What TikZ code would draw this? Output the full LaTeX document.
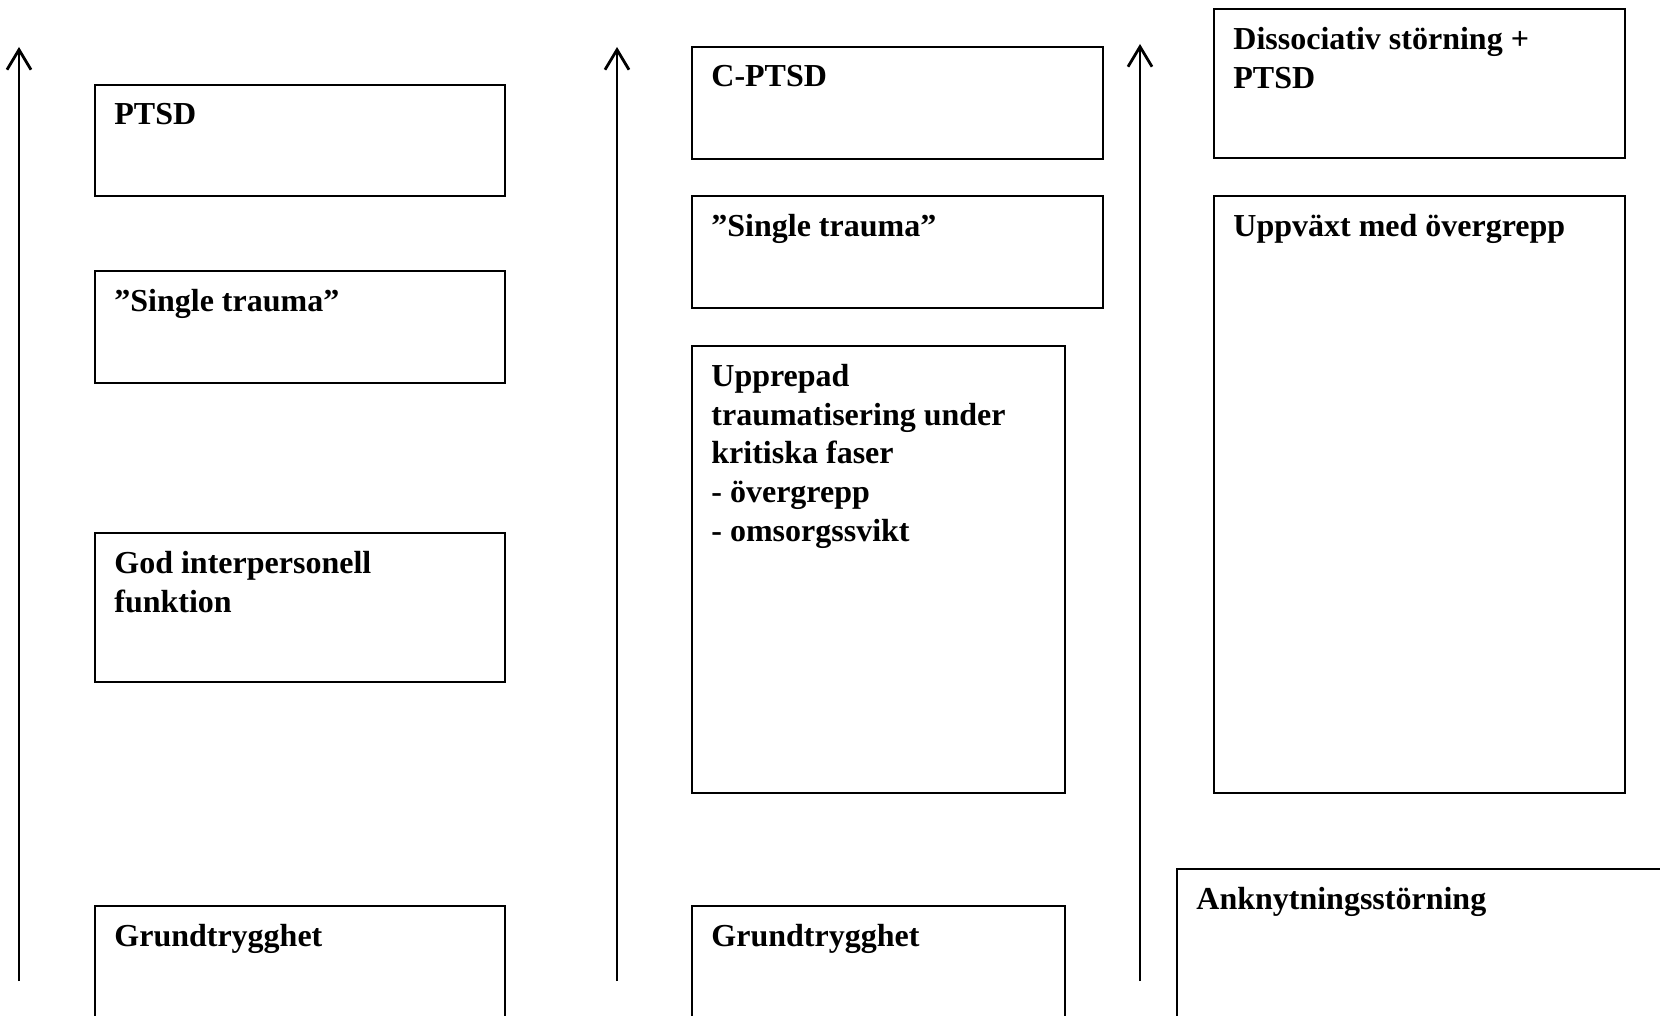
\documentclass[tikz,border=0pt]{standalone}
\usepackage{fontspec}
\setmainfont{Liberation Serif}
\usetikzlibrary{arrows.meta,fit}
\tikzstyle{frame}=[draw, line width=1pt, inner sep=0pt]
\tikzstyle{boxlabel}=[font=\bfseries\fontsize{16}{19.3}\selectfont, align=left, inner sep=0pt, anchor=north west, xshift=10pt, yshift=-9.5pt]
\tikzstyle{timeline}=[line width=1.4pt, -{Straight Barb[length=10pt,width=12pt]}]
\newcommand{\trbox}[4]{% Syntax: {name}{(top left)}{(bottom right)}{text}
    \node[frame, fit={#2 #3}, label={[boxlabel]north west:{#4}}] (#1) {};
}
\newcommand{\timeline}[3]{% Syntax: {name}{x}{y of tip}
    \coordinate (#1s) at (#2,981);
    \coordinate (#1e) at (#2,#3);
    \draw[timeline] (#1s) -- (#1e);
}
\begin{document}
\begin{tikzpicture}[x=0.5pt, y=-0.5pt]
	\clip (0,0) rectangle (1660,1016);
	% first column
	\timeline{left}{19}{47}
	\trbox{ptsd}{(95,85)}{(505,196)}{PTSD}
	\trbox{singleA}{(95,271)}{(505,383)}{”Single trauma”}
	\trbox{interp}{(95,533)}{(505,682)}{God interpersonell\\funktion}
	\trbox{baseA}{(95,906)}{(505,1030)}{Grundtrygghet}
	% second column
	\timeline{mid}{617}{47}
	\trbox{cptsd}{(692,47)}{(1103,159)}{C-PTSD}
	\trbox{singleB}{(692,196)}{(1103,308)}{”Single trauma”}
	\trbox{repeat}{(692,346)}{(1065,793)}{Upprepad\\traumatisering under\\kritiska faser\\- övergrepp\\- omsorgssvikt}
	\trbox{baseB}{(692,906)}{(1065,1030)}{Grundtrygghet}
	% third column
	\timeline{right}{1140}{44}
	\trbox{diss}{(1214,9)}{(1625,158)}{Dissociativ störning +\\PTSD}
	\trbox{abuse}{(1214,196)}{(1625,793)}{Uppväxt med övergrepp}
	\trbox{attach}{(1177,869)}{(1680,1030)}{Anknytningsstörning}
\end{tikzpicture}
\end{document}
